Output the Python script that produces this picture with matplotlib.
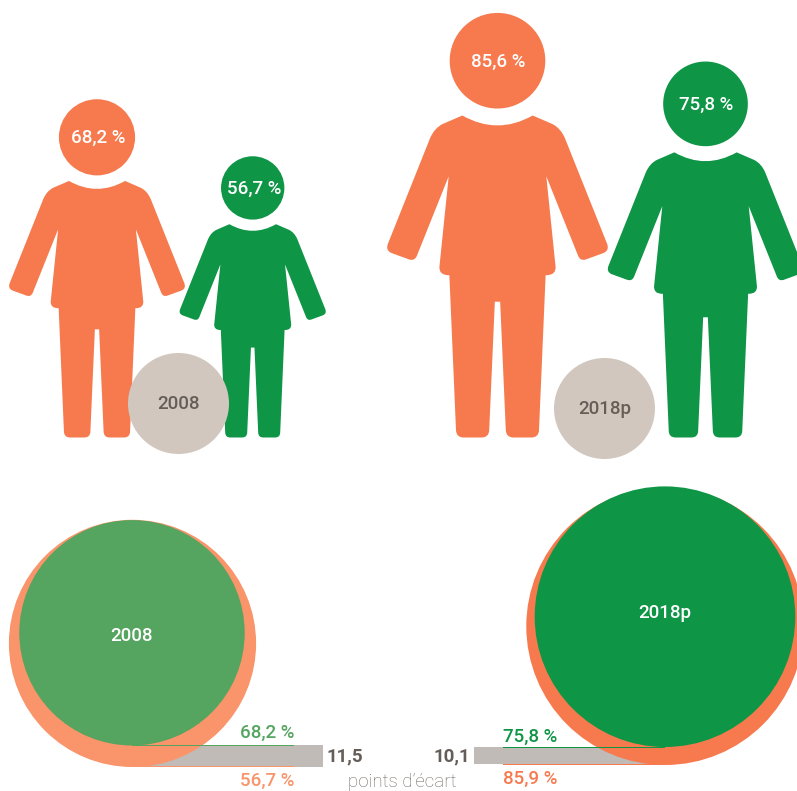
import matplotlib.pyplot as plt
from matplotlib.patches import Circle, PathPatch, Rectangle
from matplotlib.path import Path
import numpy as np

plt.rcParams['font.family'] = ['Roboto', 'DejaVu Sans']

ORANGE = "#f67a4e"
GREEN = "#0e9546"
ORANGE_LIGHT = "#f9946b"
GREEN_LIGHT = "#55a45f"
BEIGE = "#d1c7bf"
BAR = "#c0bbb7"
DARK = "#655d57"
FS = 13.5

years = ["2008", "2018p"]
top_orange = [68.2, 85.6]
top_green = [56.7, 75.8]
top_orange_labels = ["68,2 %", "85,6 %"]
top_green_labels = ["56,7 %", "75,8 %"]

bottom_small = [56.7, 75.8]
bottom_big = [68.2, 85.9]
bottom_upper_labels = ["68,2 %", "75,8 %"]
bottom_lower_labels = ["56,7 %", "85,9 %"]
gaps = ["11,5", "10,1"]

fig = plt.figure(figsize=(7.97, 7.91), dpi=100)
ax = fig.add_axes([0, 0, 1, 1])
ax.set_xlim(0, 797)
ax.set_ylim(791, 0)
ax.axis("off")


def half_body():
    # right half of the figure, from the neck down to the crotch
    return [
        (Path.CURVE3, (106, 342)),
        (Path.LINETO, (166, 368)),
        (Path.CURVE3, (190, 380)), (Path.CURVE3, (203, 410)),
        (Path.LINETO, (330, 728)),
        (Path.CURVE3, (338, 748)), (Path.CURVE3, (320, 756)),
        (Path.LINETO, (268, 775)),
        (Path.CURVE3, (250, 782)), (Path.CURVE3, (243, 765)),
        (Path.LINETO, (147, 525)),
        (Path.LINETO, (175, 798)),
        (Path.CURVE3, (176, 823)), (Path.CURVE3, (148, 823)),
        (Path.LINETO, (145, 823)),
        (Path.LINETO, (125, 1290)),
        (Path.CURVE3, (124, 1312)), (Path.CURVE3, (102, 1312)),
        (Path.LINETO, (48, 1312)),
        (Path.CURVE3, (26, 1312)), (Path.CURVE3, (25, 1290)),
        (Path.LINETO, (8, 903)),
        (Path.LINETO, (0, 903)),
    ]


def draw_person(cx, value, label, color):
    # overall height follows the value, template is in 3x zoom units
    s = value * 4.96 / (1312 - 33)
    feet = 437.5
    pts = half_body()
    verts = [(-106, 342)]
    codes = [Path.MOVETO]
    verts.append((0, 402))
    codes.append(Path.CURVE3)
    for code, xy in pts:
        verts.append(xy)
        codes.append(code)
    # mirror for the left half
    mirrored = pts[::-1]
    for i in range(1, len(mirrored)):
        code = mirrored[i - 1][0]
        verts.append((-mirrored[i][1][0], mirrored[i][1][1]))
        codes.append(code)
    verts = np.array(verts, dtype=float)
    verts[:, 0] = cx + verts[:, 0] * s
    verts[:, 1] = feet + (verts[:, 1] - 1312) * s
    ax.add_patch(PathPatch(Path(verts, codes), fc=color, ec="none"))
    cy = feet + (177 - 1312) * s
    ax.add_patch(Circle((cx, cy), 144 * s, fc=color, ec="none"))
    ax.text(cx + 1, cy + 1, label, color="white", fontsize=FS, fontweight="medium",
            ha="center", va="center")


draw_person(97, top_orange[0], top_orange_labels[0], ORANGE)
draw_person(252.7, top_green[0], top_green_labels[0], GREEN)
draw_person(497.5, top_orange[1], top_orange_labels[1], ORANGE)
draw_person(705.5, top_green[1], top_green_labels[1], GREEN)

ax.add_patch(Circle((178.5, 403.5), 50.5, fc=BEIGE, ec="none"))
ax.text(178.5, 404, years[0], color=DARK, fontsize=FS, fontweight="medium", ha="center", va="center")
ax.add_patch(Circle((604.5, 408.5), 50.5, fc=BEIGE, ec="none"))
ax.text(604.5, 409, years[1], color=DARK, fontsize=FS, fontweight="medium", ha="center", va="center")


def radius(value):
    # circle area follows the value
    return np.sqrt(value * 224)


# bars behind the big circles
ax.add_patch(Rectangle((132, 745), 191, 22, fc=BAR, ec="none", zorder=1))
ax.add_patch(Rectangle((474, 747), 190, 17, fc=BAR, ec="none", zorder=1))

# 2008
r1 = radius(bottom_big[0])
r2 = radius(bottom_small[0])
ax.add_patch(Circle((132.5, 767 - r1), r1, fc=ORANGE_LIGHT, ec="none", zorder=2))
ax.add_patch(Circle((132, 745.5 - r2), r2, fc=GREEN_LIGHT, ec="none", zorder=4))
ax.add_patch(Rectangle((132, 744.5), 162, 1.2, fc=GREEN_LIGHT, ec="none", zorder=5))
ax.add_patch(Rectangle((132, 766), 162, 1.2, fc=ORANGE_LIGHT, ec="none", zorder=5))
ax.text(132, 636, years[0], color="white", fontsize=FS, fontweight="medium", ha="center", va="center", zorder=6)

# 2018p
r3 = radius(bottom_big[1])
r4 = radius(bottom_small[1])
ax.add_patch(Circle((665, 765 - r3), r3, fc=ORANGE, ec="none", zorder=2))
ax.add_patch(Circle((665, 747 - r4), r4, fc=GREEN, ec="none", zorder=4))
ax.add_patch(Rectangle((503, 746.7), 162, 1.2, fc=GREEN, ec="none", zorder=5))
ax.add_patch(Rectangle((503, 764), 162, 1.2, fc=ORANGE, ec="none", zorder=5))
ax.text(664.5, 613.5, years[1], color="white", fontsize=FS, fontweight="medium", ha="center", va="center", zorder=6)

ax.text(294, 733, bottom_upper_labels[0], color=GREEN_LIGHT, fontsize=FS, fontweight="medium", ha="right", va="center", zorder=6)
ax.text(294, 780.5, bottom_lower_labels[0], color=ORANGE_LIGHT, fontsize=FS, fontweight="medium", ha="right", va="center", zorder=6)
ax.text(503, 736.5, bottom_upper_labels[1], color=GREEN, fontsize=FS, fontweight="medium", ha="left", va="center", zorder=6)
ax.text(503, 778.5, bottom_lower_labels[1], color=ORANGE, fontsize=FS, fontweight="medium", ha="left", va="center", zorder=6)
ax.text(327, 756, gaps[0], color=DARK, fontsize=FS, fontweight="bold", ha="left", va="center", zorder=6)
ax.text(470, 756, gaps[1], color=DARK, fontsize=FS, fontweight="bold", ha="right", va="center", zorder=6)
ax.text(402, 782, "points d’écart", color="#6f6964", fontsize=13.5, fontweight="light", ha="center", va="center", zorder=6)

fig.savefig("out.png", dpi=100)
